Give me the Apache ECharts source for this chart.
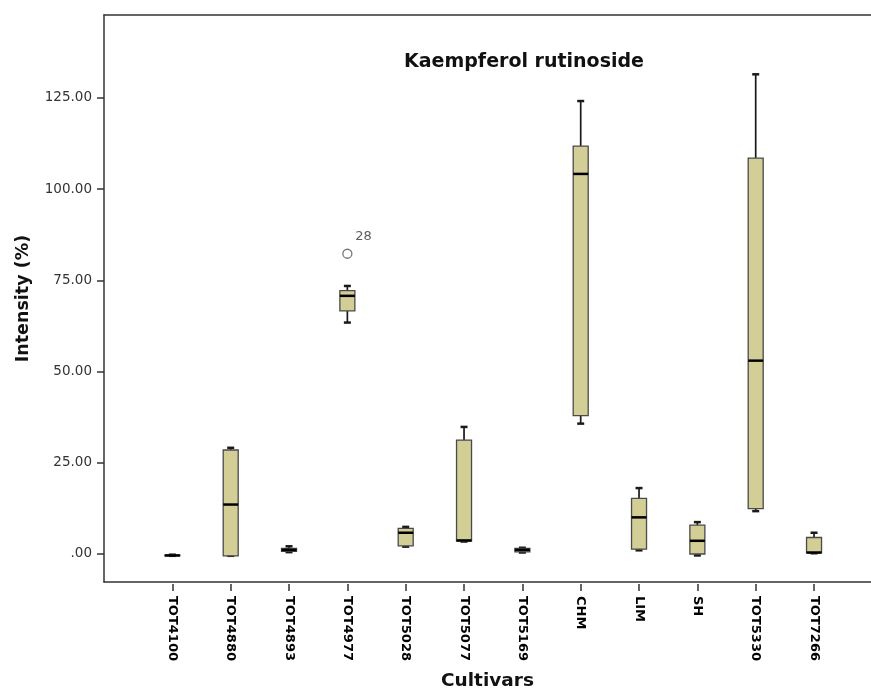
<!DOCTYPE html>
<html>
<head>
<meta charset="utf-8">
<script src="https://cdn.jsdelivr.net/npm/echarts@6/dist/echarts.min.js"></script>
<style>
  html, body { margin: 0; padding: 0; background: #fff; }
  #chart { width: 871px; height: 696px; }
</style>
</head>
<body>
<div id="chart"></div>
<script>
// Kaempferol rutinoside intensity per cultivar (box plot summaries)
const cultivars = ['TOT4100', 'TOT4880', 'TOT4893', 'TOT4977', 'TOT5028', 'TOT5077',
                   'TOT5169', 'CHM', 'LIM', 'SH', 'TOT5330', 'TOT7266'];
const whiskerLow  = [0.0,  0.0,  1.0, 63.7, 2.5,  3.9, 0.9,  36.1, 1.5, 0.1, 12.2, 0.7];
const quartile1   = [0.0,  0.0,  1.2, 66.9, 2.7,  4.0, 1.1,  38.3, 1.8, 0.5, 12.9, 0.8];
const medians     = [0.1,  14.0, 1.6, 71.0, 6.3,  4.2, 1.6, 104.3, 10.5, 4.1, 53.3, 0.9];
const quartile3   = [0.2,  28.9, 2.0, 72.4, 7.5, 31.6, 2.0, 111.9, 15.7, 8.4, 108.6, 5.0];
const whiskerHigh = [0.3,  29.5, 2.6, 73.7, 7.9, 35.2, 2.2, 124.2, 18.5, 9.2, 131.5, 6.3];

// Outlying case
const outlierCultivars = ['TOT4977'];
const outlierValues = [82.5];
const outlierLabels = ['28'];

// Y axis tick values
const yTicks = [0, 25, 50, 75, 100, 125];
const yMin = -7.7;
const yMax = 147.7;

const boxData = cultivars.map((c, i) => [i, whiskerLow[i], quartile1[i], medians[i], quartile3[i], whiskerHigh[i]]);
const outlierData = outlierCultivars.map((c, i) => ({ value: [c, outlierValues[i]], label: outlierLabels[i] }));

const INK = '#1a1a1a';
const FONT = '"DejaVu Sans", "Liberation Sans", Arial, sans-serif';

function renderBox(params, api) {
  const idx = api.value(0);
  const pLow = api.coord([idx, api.value(1)]);
  const pQ1 = api.coord([idx, api.value(2)]);
  const pMed = api.coord([idx, api.value(3)]);
  const pQ3 = api.coord([idx, api.value(4)]);
  const pHigh = api.coord([idx, api.value(5)]);
  const cx = pMed[0];
  const half = 7.5;
  const cap = 3.5;
  const children = [
    { type: 'line', shape: { x1: cx, y1: pHigh[1], x2: cx, y2: pQ3[1] }, style: { stroke: INK, lineWidth: 1.7 } },
    { type: 'line', shape: { x1: cx, y1: pQ1[1], x2: cx, y2: pLow[1] }, style: { stroke: INK, lineWidth: 1.7 } },
    { type: 'line', shape: { x1: cx - cap, y1: pHigh[1], x2: cx + cap, y2: pHigh[1] }, style: { stroke: INK, lineWidth: 2.5 } },
    { type: 'line', shape: { x1: cx - cap, y1: pLow[1], x2: cx + cap, y2: pLow[1] }, style: { stroke: INK, lineWidth: 2.5 } },
    { type: 'rect', shape: { x: cx - half, y: pQ3[1], width: half * 2, height: Math.max(pQ1[1] - pQ3[1], 0.5) },
      style: { fill: '#d3ce96', stroke: '#4a4a4a', lineWidth: 1.3 } },
    { type: 'line', shape: { x1: cx - half, y1: pMed[1], x2: cx + half, y2: pMed[1] }, style: { stroke: '#000', lineWidth: 2.5 } }
  ];
  return { type: 'group', children };
}

const frameLine = { show: true, onZero: false, lineStyle: { color: '#333', width: 1.5 } };

const chart = echarts.init(document.getElementById('chart'), null, { renderer: 'canvas' });
chart.setOption({
  backgroundColor: '#fff',
  animation: false,
  title: {
    text: 'Kaempferol rutinoside',
    left: 519,
    top: 48,
    textAlign: 'center',
    textStyle: { fontFamily: FONT, fontWeight: 'bold', fontSize: 19, color: '#111' }
  },
  grid: [
    { left: 104, top: 15, right: 0, bottom: 112 },
    { left: 143.2, top: 15, right: 27.8, bottom: 112 }
  ],
  xAxis: [
    {
      gridIndex: 0, type: 'value', min: 0, max: 1, position: 'bottom',
      axisLine: frameLine,
      axisTick: { show: false }, axisLabel: { show: false }, splitLine: { show: false },
      name: 'Cultivars', nameLocation: 'middle', nameGap: 90,
      nameTextStyle: { fontFamily: FONT, fontWeight: 'bold', fontSize: 18.5, color: '#111' }
    },
    {
      gridIndex: 0, type: 'value', min: 0, max: 1, position: 'top',
      axisLine: frameLine,
      axisTick: { show: false }, axisLabel: { show: false }, splitLine: { show: false }
    },
    {
      gridIndex: 1, type: 'category', data: cultivars, boundaryGap: true, position: 'bottom',
      axisLine: { show: false, onZero: false },
      axisTick: { show: true, alignWithLabel: true, length: 7, lineStyle: { color: '#333', width: 1.5 } },
      axisLabel: { rotate: -90, interval: 0, margin: 12, fontFamily: FONT, fontWeight: 'bold', fontSize: 13, color: '#000' },
      splitLine: { show: false }
    }
  ],
  yAxis: [
    {
      gridIndex: 0, type: 'value', min: yMin, max: yMax,
      axisLine: frameLine,
      axisTick: { show: true, length: 7, customValues: yTicks, lineStyle: { color: '#333', width: 1.5 } },
      axisLabel: {
        customValues: yTicks, margin: 12, fontFamily: FONT, fontSize: 13.5, color: '#333',
        formatter: v => (v === 0 ? '.00' : v.toFixed(2))
      },
      splitLine: { show: false },
      name: 'Intensity (%)', nameLocation: 'middle', nameGap: 72,
      nameTextStyle: { fontFamily: FONT, fontWeight: 'bold', fontSize: 17.5, color: '#111' }
    },
    { gridIndex: 1, type: 'value', min: yMin, max: yMax, show: false }
  ],
  series: [
    {
      type: 'custom', xAxisIndex: 2, yAxisIndex: 1,
      renderItem: renderBox,
      encode: { x: 0, y: [1, 2, 3, 4, 5] },
      data: boxData,
      z: 3
    },
    {
      type: 'scatter', xAxisIndex: 2, yAxisIndex: 1,
      symbol: 'circle', symbolSize: 9,
      itemStyle: { color: '#fff', borderColor: '#555', borderWidth: 1.3 },
      label: {
        show: true, position: [13, -18],
        formatter: p => p.data.label,
        fontFamily: FONT, fontSize: 13, color: '#333'
      },
      data: outlierData,
      z: 4
    }
  ]
});
</script>
</body>
</html>
